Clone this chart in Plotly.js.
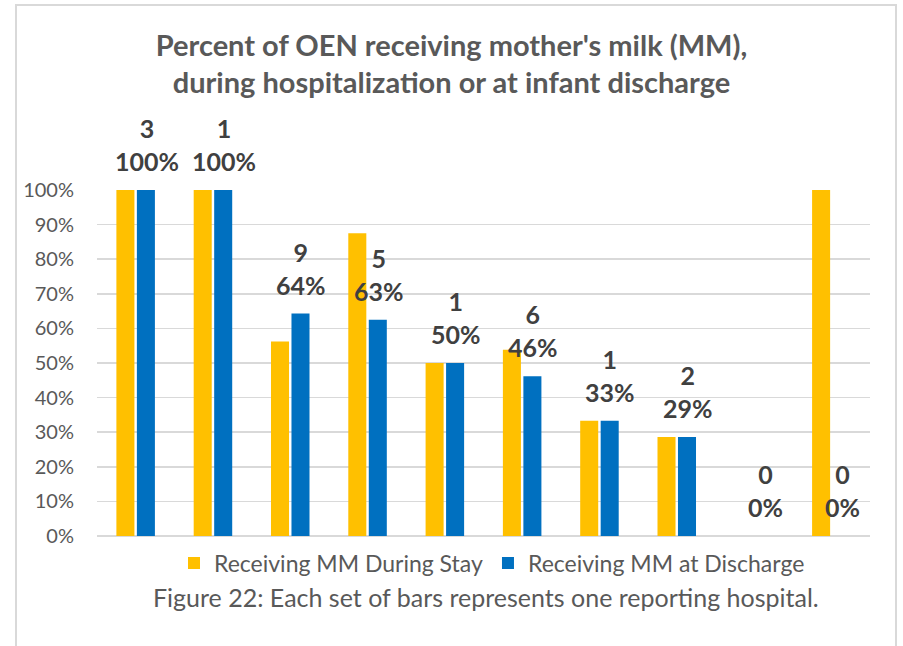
<!DOCTYPE html>
<html>
<head>
<meta charset="utf-8">
<script src="https://cdn.plot.ly/plotly-3.0.1.min.js"></script>
<style>
html,body{margin:0;padding:0;background:#fff;overflow:hidden;}
#chart{width:903px;height:646px;position:absolute;left:0;top:0;}
#frame{position:absolute;left:15px;top:4px;width:882px;height:700px;border:2px solid #D9D9D9;box-sizing:border-box;pointer-events:none;}
</style>
</head>
<body>
<div id="chart"></div>
<div id="frame"></div>
<script>
const hospitals = ["H1","H2","H3","H4","H5","H6","H7","H8","H9","H10"];
const duringStay = [1.00, 1.00, 0.5625, 0.875, 0.50, 0.538, 0.333, 0.286, 0.00, 1.00];
const atDischarge = [1.00, 1.00, 0.643, 0.625, 0.50, 0.462, 0.333, 0.286, 0.00, 0.00];
const counts = [3, 1, 9, 5, 1, 6, 1, 2, 0, 0];
const seriesNames = ["Receiving MM During Stay", "Receiving MM at Discharge"];
const titleText = "Percent of OEN receiving mother's milk (MM),<br>during hospitalization or at infant discharge";
const captionText = "Figure 22: Each set of bars represents one reporting hospital.";

const FONT = "Lato, 'Open Sans', sans-serif";
const GREY = "#595959";

const traces = [
  {type:"bar", name:seriesNames[0], x:hospitals, y:duringStay, marker:{color:"#FFC000"}, hoverinfo:"skip"},
  {type:"bar", name:seriesNames[1], x:hospitals, y:atDischarge, marker:{color:"#0070C0"}, hoverinfo:"skip"}
];

const annotations = hospitals.map((h,i)=>({
  x:h, y:atDischarge[i], xref:"x", yref:"y",
  text:"<b>"+counts[i]+"</b><br><b>"+Math.round(atDischarge[i]*100)+"%</b>",
  showarrow:false, xanchor:"center", yanchor:"bottom", xshift:11, yshift:12,
  font:{family:FONT, size:25, color:"#404040"}, align:"center"
}));
annotations.push({
  text:captionText, xref:"paper", yref:"paper", x:0.503, y:-0.176,
  xanchor:"center", yanchor:"middle", showarrow:false,
  font:{family:FONT, size:25, color:GREY}
});

const layout = {
  width:903, height:646,
  margin:{l:97, r:33, t:190, b:110},
  paper_bgcolor:"rgba(0,0,0,0)", plot_bgcolor:"#fff",
  title:{text:"<b>"+titleText+"</b>", x:0.5, xanchor:"center", y:0.914, yanchor:"middle",
         font:{family:FONT, size:29, color:GREY}},
  barmode:"group", bargap:0.47, bargroupgap:0.12,
  xaxis:{showticklabels:false, showgrid:false, zeroline:false, showline:false, ticks:""},
  yaxis:{range:[0,1], dtick:0.1, tickformat:".0%", showgrid:true, gridcolor:"#D9D9D9", gridwidth:1.5,
         zeroline:true, zerolinecolor:"#D9D9D9", zerolinewidth:1.5, showline:false, ticks:"",
         ticklen:0, ticklabelstandoff:22, tickfont:{family:FONT, size:20, color:GREY}},
  showlegend:true,
  legend:{orientation:"h", x:0.511, xanchor:"center", y:-0.078, yanchor:"middle",
          font:{family:FONT, size:23, color:GREY}, itemwidth:30, traceorder:"normal"},
  annotations:annotations
};

Plotly.newPlot("chart", traces, layout, {displayModeBar:false, staticPlot:true});
</script>
</body>
</html>
